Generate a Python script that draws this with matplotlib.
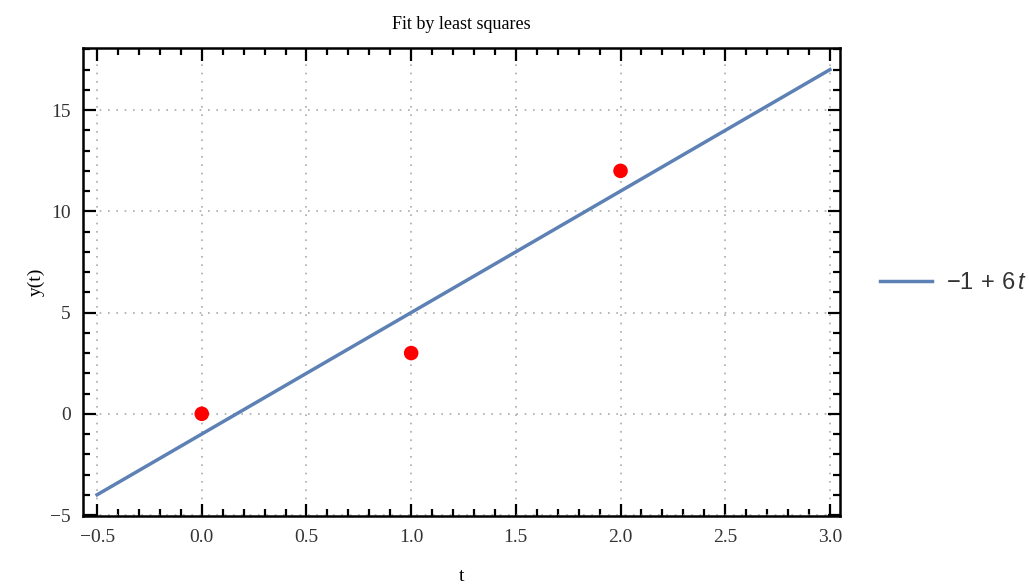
import matplotlib
matplotlib.use("Agg")
import matplotlib.pyplot as plt
import numpy as np
from matplotlib.ticker import MultipleLocator

# data points and fitted line -1 + 6 t
t_data = [0, 1, 2]
y_data = [0, 3, 12]
t_fit = [-0.5, 3.0]
intercept, slope = -1, 6
y_fit = [intercept + slope * t for t in t_fit]

serif = ['Liberation Serif', 'DejaVu Serif']
plt.rcParams['mathtext.fontset'] = 'custom'
plt.rcParams['mathtext.rm'] = 'Liberation Sans'
plt.rcParams['mathtext.it'] = 'Liberation Sans:italic'

fig = plt.figure(figsize=(10.29, 5.88), dpi=100)
ax = fig.add_axes([0.0807, 0.1224, 0.7356, 0.796])

ax.plot(t_fit, y_fit, color='#5E81B5', lw=2.5, label=r'$\mathrm{-1\,+\,6}\,t$', zorder=3)
ax.scatter(t_data, y_data, s=110, color='#FF0000', edgecolors='none', zorder=4)

ax.set_xlim(-0.567, 3.048)
ax.set_ylim(-5.05, 18.07)
ax.xaxis.set_major_locator(MultipleLocator(0.5))
ax.xaxis.set_minor_locator(MultipleLocator(0.1))
ax.yaxis.set_major_locator(MultipleLocator(5))
ax.yaxis.set_minor_locator(MultipleLocator(1))
ax.xaxis.set_major_formatter(matplotlib.ticker.FuncFormatter(
    lambda v, p: ('%.1f' % v).replace('-', '\u2212')))
ax.yaxis.set_major_formatter(matplotlib.ticker.FuncFormatter(
    lambda v, p: ('%d' % v).replace('-', '\u2212')))

ax.tick_params(which='both', direction='in', top=True, right=True,
               width=1.6, color='black')
ax.tick_params(which='major', length=9, labelsize=14, pad=9)
ax.tick_params(which='minor', length=5)
for lab in ax.get_xticklabels() + ax.get_yticklabels():
    lab.set_family(serif)
    lab.set_color('#333333')
for sp in ax.spines.values():
    sp.set_linewidth(1.8)

ax.grid(True, which='major', linestyle=(0, (1, 4)), color='#AAAAAA', lw=1.2)

ax.set_title('Fit by least squares', family=serif, fontsize=13, pad=14)
ax.set_xlabel('t', family=serif, fontsize=14, labelpad=16)
ax.set_ylabel('y(t)', family=serif, fontsize=14, labelpad=4)

leg = ax.legend(loc='center left', bbox_to_anchor=(1.025, 0.5), frameon=False,
                fontsize=17, handlelength=2.2, handletextpad=0.6)
for txt in leg.get_texts():
    txt.set_color('#333333')

fig.savefig('out.png', dpi=100)
